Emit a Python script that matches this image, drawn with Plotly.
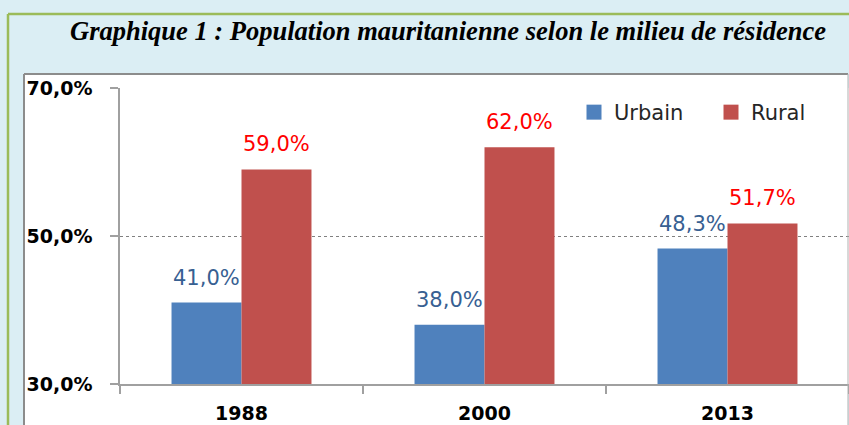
import plotly.graph_objects as go

years = ["1988", "2000", "2013"]
urbain = [41.0, 38.0, 48.3]
rural = [59.0, 62.0, 51.7]
series_names = ["Urbain", "Rural"]
series_colors = ["#4F81BD", "#C0504D"]
label_colors = ["#376092", "#FF0000"]
y_ticks = [30, 50, 70]
title_text = "Graphique 1 : Population mauritanienne selon le milieu de résidence"

W, H = 849, 425
ML, MR, MT, MB = 120, 0, 88, 41
PW = W - ML - MR
PH = H - MT - MB


def px_x(p):
    return (p - ML) / PW


def px_y(p):
    return (H - MB - p) / PH


fig = go.Figure()
for name, vals, col in zip(series_names, [urbain, rural], series_colors):
    fig.add_trace(go.Bar(name=name, x=years, y=vals, showlegend=False,
                         marker=dict(color=col, line=dict(width=0))))
# legend entries with larger square symbols
for name, col in zip(series_names, series_colors):
    fig.add_trace(go.Scatter(name=name, x=[None], y=[None], mode="markers",
                             marker=dict(symbol="square", size=15, color=col),
                             showlegend=True, hoverinfo="skip"))

annotations = []
for vals, shift, col in [(urbain, -35, label_colors[0]), (rural, 35, label_colors[1])]:
    for i, v in enumerate(vals):
        annotations.append(dict(
            x=i, y=v, xref="x", yref="y", xshift=shift, yshift=11,
            yanchor="bottom", showarrow=False,
            text=(f"{v:.1f}%").replace(".", ","),
            font=dict(family="DejaVu Sans", size=21, color=col)))

annotations.append(dict(
    x=px_x(448), y=px_y(31), xref="paper", yref="paper", showarrow=False,
    xanchor="center", yanchor="middle", text="<b><i>" + title_text + "</i></b>",
    font=dict(family="Liberation Serif", size=26.5, color="#000000")))

shapes = [
    dict(type="rect", xref="paper", yref="paper", x0=px_x(24), x1=px_x(848),
         y0=px_y(430), y1=px_y(74), fillcolor="white", line=dict(width=0), layer="below"),
    dict(type="line", xref="paper", yref="paper", x0=px_x(24), x1=px_x(24),
         y0=px_y(74), y1=px_y(430), line=dict(color="#8C8C8C", width=2), layer="above"),
    dict(type="line", xref="paper", yref="paper", x0=px_x(24), x1=px_x(848),
         y0=px_y(74), y1=px_y(74), line=dict(color="#8C8C8C", width=2), layer="above"),
    dict(type="line", xref="paper", yref="paper", x0=px_x(848), x1=px_x(848),
         y0=px_y(74), y1=px_y(430), line=dict(color="#B0B0B0", width=1), layer="above"),
    dict(type="line", xref="paper", yref="paper", x0=px_x(8), x1=px_x(852),
         y0=px_y(14), y1=px_y(14), line=dict(color="#9BBB59", width=2.5), layer="above"),
    dict(type="line", xref="paper", yref="paper", x0=px_x(8), x1=px_x(8),
         y0=px_y(14), y1=px_y(430), line=dict(color="#9BBB59", width=2.5), layer="above"),
]

fig.update_layout(
    width=W, height=H,
    margin=dict(l=ML, r=MR, t=MT, b=MB, autoexpand=False),
    paper_bgcolor="#DBEEF4",
    plot_bgcolor="white",
    barmode="group", bargap=0.424, bargroupgap=0,
    showlegend=True,
    legend=dict(orientation="h", x=px_x(574), y=px_y(92), xanchor="left", yanchor="top",
                font=dict(family="DejaVu Sans", size=21, color="#262626"),
                bgcolor="rgba(0,0,0,0)", itemwidth=30, entrywidth=92,
                traceorder="normal"),
    annotations=annotations,
    shapes=shapes,
    xaxis=dict(type="category", range=[-0.5, 2.5], showline=True, linecolor="#A0A0A0",
               linewidth=1.5, ticks="outside", tickson="boundaries", ticklen=8,
               tickcolor="#A0A0A0", tickwidth=1.5, showgrid=False,
               tickfont=dict(family="DejaVu Sans", size=19, color="#000000", weight="bold"),
               ticklabelstandoff=11),
    yaxis=dict(range=[30, 70], tickvals=y_ticks,
               ticktext=[(f"{t:.1f}%").replace(".", ",") for t in y_ticks],
               showline=True, linecolor="#A0A0A0", linewidth=1.5,
               ticks="outside", ticklen=8, tickcolor="#A0A0A0", tickwidth=1.5,
               showgrid=True, gridcolor="#808080", gridwidth=1, griddash="dot",
               zeroline=False,
               tickfont=dict(family="DejaVu Sans", size=19, color="#000000", weight="bold"),
               ticklabelstandoff=14),
)

fig.write_html("out.html", config={"displayModeBar": False},
               post_script="document.body.style.margin='0';")
